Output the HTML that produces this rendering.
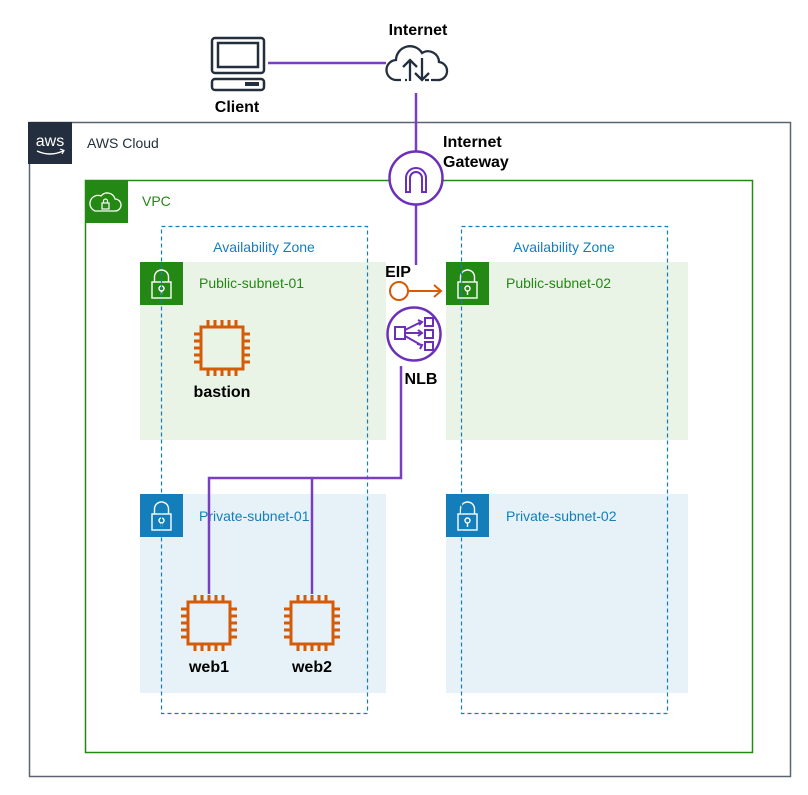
<!DOCTYPE html>
<html><head><meta charset="utf-8"><style>
html,body{margin:0;padding:0;background:#fff;}
svg{display:block;}
</style></head><body>
<svg width="808" height="795" viewBox="0 0 808 795" xmlns="http://www.w3.org/2000/svg" font-family="Liberation Sans, Arial, sans-serif">
<defs>
<g id="chip" fill="none" stroke="#d45b07" stroke-width="3">
  <rect x="-21" y="-21" width="42" height="42"/>
  <path d="M-14,-21v-7M-7,-21v-7M0,-21v-7M7,-21v-7M14,-21v-7M-14,21v7M-7,21v7M0,21v7M7,21v7M14,21v7M-21,-14h-7M-21,-7h-7M-21,0h-7M-21,7h-7M-21,14h-7M21,-14h7M21,-7h7M21,0h7M21,7h7M21,14h7"/>
</g>
<g id="lock" fill="none" stroke="#fff" stroke-width="1.4">
  <rect x="-9.5" y="-2" width="19" height="16"/>
  <path d="M-7,-2v-5a7,7 0 0 1 14,0v5"/>
  <circle cx="0" cy="4.5" r="2.5"/>
  <path d="M0,7v4"/>
</g>
</defs>

<!-- AWS Cloud -->
<rect x="29.5" y="122.5" width="761" height="654" fill="none" stroke="#5a6573" stroke-width="1.5"/>
<rect x="28" y="122" width="44" height="42" fill="#232f3e"/>
<text x="50" y="146" font-size="16" fill="#fff" text-anchor="middle">aws</text>
<path d="M37,151 q13,6 26,0" fill="none" stroke="#fff" stroke-width="1.5"/>
<path d="M60,149 l4,1.5 l-2,3.5" fill="none" stroke="#fff" stroke-width="1.2"/>
<text x="87" y="148" font-size="14" fill="#232f3e">AWS Cloud</text>

<!-- VPC -->
<rect x="85.5" y="180.5" width="667" height="572" fill="none" stroke="#248814" stroke-width="1.5"/>
<rect x="85" y="180" width="43" height="43" fill="#248814"/>
<path d="M95,211 h20 a6,6 0 0 0 0,-12 a8,8 0 0 0 -14,-3 a6,6 0 0 0 -6,15z" fill="none" stroke="#fff" stroke-width="1.3"/>
<rect x="102" y="203" width="7" height="6" fill="none" stroke="#fff" stroke-width="1.2"/>
<path d="M103.5,203v-2a2,2 0 0 1 4,0v2" fill="none" stroke="#fff" stroke-width="1.2"/>
<text x="142" y="206" font-size="14" fill="#248814">VPC</text>

<!-- Subnets -->
<rect x="140" y="262" width="246" height="178" fill="#e9f3e6"/>
<rect x="446" y="262" width="242" height="178" fill="#e9f3e6"/>
<rect x="140" y="494" width="246" height="199" fill="#e6f2f8"/>
<rect x="446" y="494" width="242" height="199" fill="#e6f2f8"/>
<rect x="140" y="262" width="43" height="43" fill="#248814"/>
<use href="#lock" x="161.5" y="284"/>
<rect x="446" y="262" width="43" height="43" fill="#248814"/>
<use href="#lock" x="467.5" y="284"/>
<rect x="140" y="494" width="43" height="43" fill="#147eba"/>
<use href="#lock" x="161.5" y="516"/>
<rect x="446" y="494" width="43" height="43" fill="#147eba"/>
<use href="#lock" x="467.5" y="516"/>
<text x="199" y="288" font-size="14" fill="#248814">Public-subnet-01</text>
<text x="506" y="288" font-size="14" fill="#248814">Public-subnet-02</text>
<text x="199" y="521" font-size="14" fill="#147eba">Private-subnet-01</text>
<text x="506" y="521" font-size="14" fill="#147eba">Private-subnet-02</text>

<!-- AZs -->
<rect x="161.5" y="226.5" width="206" height="487" fill="none" stroke="#147eba" stroke-width="1.2" stroke-dasharray="4,3"/>
<rect x="461.5" y="226.5" width="206" height="487" fill="none" stroke="#147eba" stroke-width="1.2" stroke-dasharray="4,3"/>
<text x="264" y="252" font-size="14" fill="#147eba" text-anchor="middle">Availability Zone</text>
<text x="564" y="252" font-size="14" fill="#147eba" text-anchor="middle">Availability Zone</text>

<!-- connectors -->
<g stroke="#7a3fc0" stroke-width="2.5" fill="none">
<path d="M268,63 H386"/>
<path d="M416,93 V151"/>
<path d="M416,205 V265"/>
<path d="M401,366 V478 H209 V594"/>
<path d="M312,478 V594"/>
</g>

<!-- Client -->
<g fill="none" stroke="#232f3e" stroke-width="2.5">
<rect x="212" y="38" width="52" height="35" rx="3"/>
<rect x="218" y="43" width="40" height="24"/>
<rect x="212" y="79" width="52" height="11" rx="3"/>
</g>
<rect x="245" y="82" width="14" height="4" fill="#232f3e"/>
<text x="237" y="112" font-size="16" font-weight="bold" fill="#000" text-anchor="middle">Client</text>

<!-- Internet -->
<text x="418" y="35" font-size="16" font-weight="bold" fill="#000" text-anchor="middle">Internet</text>
<path d="M401,80 h-4 a10,10 0 0 1 -1,-20 a14,14 0 0 1 26,-7 a11,11 0 0 1 17,9 a9,9 0 0 1 -2,18 h-6" fill="none" stroke="#232f3e" stroke-width="2.3"/>
<path d="M410,81 v-20 M403,67 l7,-7 l7,7 M422,58 v22 M415,73 l7,7 l7,-7 M405,80 h2 M425,80 h4" fill="none" stroke="#232f3e" stroke-width="2.3"/>

<!-- IGW -->
<circle cx="416" cy="178" r="26.5" fill="#fff" stroke="#6b2fba" stroke-width="2.5"/>
<path d="M406,192 v-14 a10,10 0 0 1 20,0 v14 h-4 v-14 a6,6 0 0 0 -12,0 v14z" fill="none" stroke="#6b2fba" stroke-width="2"/>
<text x="443" y="147" font-size="16" font-weight="bold" fill="#000">Internet</text>
<text x="443" y="167" font-size="16" font-weight="bold" fill="#000">Gateway</text>

<!-- EIP -->
<text x="398" y="277" font-size="16" font-weight="bold" fill="#000" text-anchor="middle">EIP</text>
<circle cx="399" cy="291" r="9" fill="#fff" stroke="#d45b07" stroke-width="2"/>
<path d="M408,291 H441 M434,285 l7,6 l-7,6" fill="none" stroke="#d45b07" stroke-width="2"/>

<!-- NLB -->
<circle cx="414" cy="334" r="26.5" fill="#fff" stroke="#6b2fba" stroke-width="2.5"/>
<g fill="none" stroke="#6b2fba" stroke-width="2">
<rect x="395" y="327" width="10" height="12"/>
<rect x="425" y="318" width="8" height="8"/>
<rect x="425" y="330" width="8" height="8"/>
<rect x="425" y="342" width="8" height="8"/>
<path d="M405,330 l16,-8 M405,333 h16 M405,336 l16,9 M418,320 l4,2 l-3,3 M418,330 l4,3 l-4,3 M417,344 l5,1 l-2,4"/>
</g>
<text x="421" y="384" font-size="16" font-weight="bold" fill="#000" text-anchor="middle">NLB</text>

<!-- chips -->
<use href="#chip" x="222" y="348"/>
<text x="222" y="397" font-size="16" font-weight="bold" fill="#000" text-anchor="middle">bastion</text>
<use href="#chip" x="209" y="623"/>
<text x="209" y="672" font-size="16" font-weight="bold" fill="#000" text-anchor="middle">web1</text>
<use href="#chip" x="312" y="623"/>
<text x="312" y="672" font-size="16" font-weight="bold" fill="#000" text-anchor="middle">web2</text>
</svg>
</body></html>
